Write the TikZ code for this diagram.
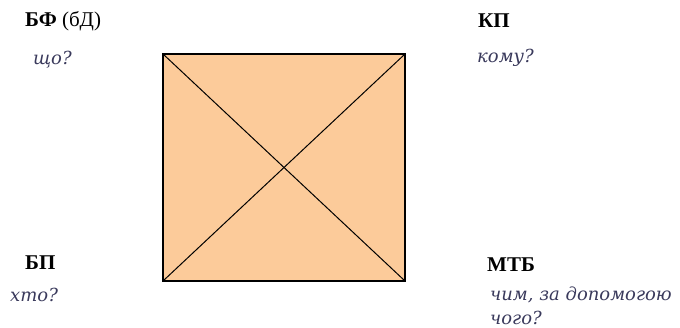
\documentclass[tikz,border=0pt]{standalone}
\usepackage{fontspec}
\setmainfont{Liberation Serif}
\newfontfamily\askfont{DejaVu Serif}
\definecolor{peach}{HTML}{FCCB9A}
\definecolor{askblue}{HTML}{3A3A5C}
\tikzset{
  role/.style={anchor=west,inner sep=0pt,font=\fontsize{21}{25}\selectfont\bfseries},
  ask/.style={anchor=west,inner sep=0pt,text=askblue,font=\askfont\itshape\fontsize{18}{24}\selectfont},
}
\begin{document}
\begin{tikzpicture}[x=1pt,y=1pt]
\useasboundingbox (0,0) rectangle (680,328);
\draw[fill=peach,line width=1.5pt] (163,47) rectangle (405,274);
\draw[line width=1pt] (163,274) -- (405,47);
\draw[line width=1pt] (163,47) -- (405,274);
% top row
\node[role] (bf) at (25,307) {БФ \textmd{(бД)}};
\node[ask] (bfq) at (33,268) {що?};
\node[role] (kp) at (478,307) {КП};
\node[ask] (kpq) at (477,270) {кому?};
% bottom row
\node[role] (bp) at (25,65) {БП};
\node[ask] (bpq) at (10,33) {хто?};
\node[role] (mtb) at (487,63) {МТБ};
\node[ask,align=left] (mtbq) at (490,22) {чим, за допомогою\\чого?};
\end{tikzpicture}
\end{document}
